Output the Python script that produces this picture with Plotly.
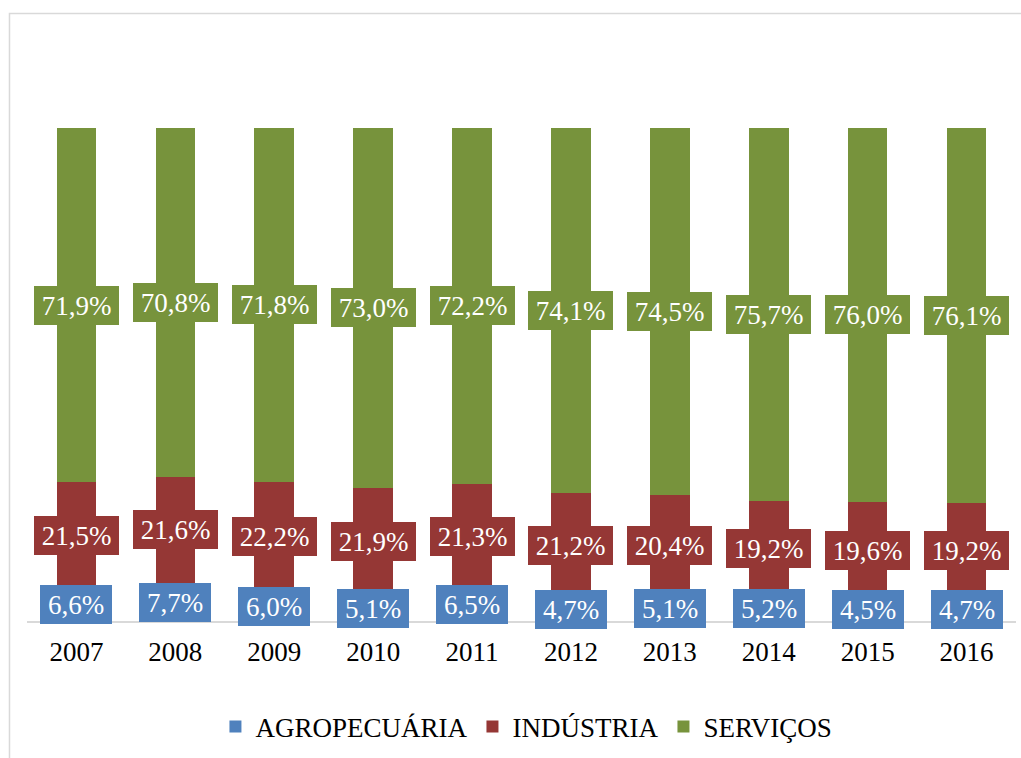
import plotly.graph_objects as go

years = ["2007", "2008", "2009", "2010", "2011", "2012", "2013", "2014", "2015", "2016"]
agropecuaria = [6.6, 7.7, 6.0, 5.1, 6.5, 4.7, 5.1, 5.2, 4.5, 4.7]
industria = [21.5, 21.6, 22.2, 21.9, 21.3, 21.2, 20.4, 19.2, 19.6, 19.2]
servicos = [71.9, 70.8, 71.8, 73.0, 72.2, 74.1, 74.5, 75.7, 76.0, 76.1]

series_names = ["AGROPECUÁRIA", "INDÚSTRIA", "SERVIÇOS"]
colors = ["#4F81BD", "#953735", "#77933C"]
FONT = "Liberation Serif, Times New Roman, serif"

fig = go.Figure()
all_series = [agropecuaria, industria, servicos]
for name, vals, col in zip(series_names, all_series, colors):
    fig.add_trace(go.Bar(
        x=years, y=vals, name=name,
        marker=dict(color=col, line=dict(width=0)),
    ))

def fmt(v):
    return f"{v:.1f}".replace(".", ",") + "%"

annotations = []
base = [0.0] * len(years)
for vals, col in zip(all_series, colors):
    for i, v in enumerate(vals):
        txt = fmt(v)
        annotations.append(dict(
            x=i, y=base[i] + v / 2, xref="x", yref="y",
            text=txt, showarrow=False,
            font=dict(family=FONT, size=27, color="white"),
            bgcolor=col, borderpad=0, borderwidth=0,
            width=13 * len(txt) + 20, height=39,
        ))
        base[i] += v

fig.update_layout(
    width=1021, height=758,
    margin=dict(l=27, r=5, t=128, b=137),
    barmode="stack", bargap=0.6,
    plot_bgcolor="white", paper_bgcolor="white",
    font=dict(family=FONT, size=27, color="black"),
    xaxis=dict(type="category", range=[-0.5, 9.5], showline=True, linecolor="#D9D9D9", linewidth=1.5,
               ticks="", showgrid=False, ticklabelstandoff=6,
               tickfont=dict(family=FONT, size=27, color="black")),
    yaxis=dict(range=[0, 100], visible=False, showgrid=False, zeroline=False),
    legend=dict(orientation="h", x=0.505, xanchor="center", y=0.041, yanchor="middle",
                yref="container", font=dict(family=FONT, size=27, color="black"),
                traceorder="normal"),
    annotations=annotations,
    shapes=[dict(type="rect", xref="paper", yref="paper",
                 x0=-0.0177, x1=1.02, y0=-0.32, y1=1.2323,
                 line=dict(color="#D9D9D9", width=1.5), layer="below")],
    showlegend=True,
)

fig.write_html("out.html")
